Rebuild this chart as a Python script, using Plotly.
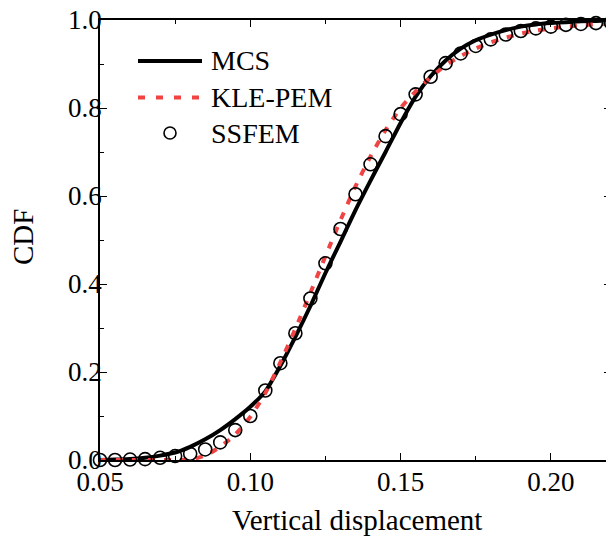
import plotly.graph_objects as go

x_vals = [0.050, 0.055, 0.060, 0.065, 0.070, 0.075, 0.080, 0.085, 0.090, 0.095,
          0.100, 0.105, 0.110, 0.115, 0.120, 0.125, 0.130, 0.135, 0.140, 0.145,
          0.150, 0.155, 0.160, 0.165, 0.170, 0.175, 0.180, 0.185, 0.190, 0.195,
          0.200, 0.205, 0.210, 0.215, 0.220]

mcs = [0.000, 0.001, 0.002, 0.005, 0.010, 0.017, 0.030, 0.047, 0.068, 0.093,
       0.121, 0.156, 0.214, 0.280, 0.350, 0.425, 0.496, 0.568, 0.635, 0.700,
       0.766, 0.826, 0.872, 0.908, 0.935, 0.954, 0.967, 0.977, 0.985, 0.990,
       0.993, 0.995, 0.997, 0.998, 0.999]

kle_pem = [0.000, 0.000, 0.000, 0.000, 0.000, 0.000, 0.001, 0.010, 0.030, 0.058,
           0.098, 0.152, 0.222, 0.298, 0.380, 0.463, 0.545, 0.622, 0.690, 0.750,
           0.800, 0.838, 0.870, 0.897, 0.918, 0.935, 0.949, 0.960, 0.969, 0.976,
           0.981, 0.985, 0.988, 0.990, 0.992]

ssfem = [0.000, 0.000, 0.001, 0.002, 0.005, 0.009, 0.014, 0.024, 0.040, 0.068,
         0.100, 0.158, 0.220, 0.288, 0.367, 0.447, 0.525, 0.604, 0.672, 0.736,
         0.786, 0.831, 0.871, 0.902, 0.924, 0.941, 0.956, 0.967, 0.975, 0.981,
         0.985, 0.989, 0.991, 0.993, 0.994]

series_names = ["MCS", "KLE-PEM", "SSFEM"]
x_title = "Vertical displacement"
y_title = "CDF"
x_ticks = [0.05, 0.10, 0.15, 0.20]
y_ticks = [0.0, 0.2, 0.4, 0.6, 0.8, 1.0]

FONT = "Liberation Serif, Times New Roman, serif"
RED = "#F04343"

fig = go.Figure()
fig.add_trace(go.Scatter(x=x_vals, y=mcs, mode="lines", name=series_names[0],
                         line=dict(color="black", width=4, shape="spline", smoothing=0.6),
                         cliponaxis=False, showlegend=False))
fig.add_trace(go.Scatter(x=x_vals, y=kle_pem, mode="lines", name=series_names[1],
                         line=dict(color=RED, width=4, dash="7px,9px", shape="spline", smoothing=0.6),
                         cliponaxis=False, showlegend=False))
fig.add_trace(go.Scatter(x=x_vals, y=ssfem, mode="markers", name=series_names[2],
                         marker=dict(symbol="circle-open", size=13, color="black",
                                     line=dict(width=1.6, color="black")),
                         cliponaxis=False, showlegend=False))

# page has an 8px body margin; compensate so the plot area lands at x 100..611, y 20..460
OFF = 8
PW, PH = 614, 537
W, H = PW - OFF, PH - OFF
L, R, T, B = 100 - OFF, 3, 20 - OFF, 77
pw, ph = W - L - R, H - T - B

def px(xp):
    return (xp - OFF - L) / pw

def py(yp):
    return (H - B - (yp - OFF)) / ph

shapes = [
    dict(type="line", xref="paper", yref="paper", x0=px(138), x1=px(202), y0=py(61), y1=py(61),
         line=dict(color="black", width=4)),
    dict(type="line", xref="paper", yref="paper", x0=px(138), x1=px(202), y0=py(97.5), y1=py(97.5),
         line=dict(color=RED, width=4, dash="7px,11px")),
    dict(type="circle", xref="paper", yref="paper", x0=px(164), x1=px(176), y0=py(139), y1=py(127),
         line=dict(color="black", width=1.6)),
]
annotations = []
for name, yy in zip(series_names, [61, 97.5, 133]):
    annotations.append(dict(text=name, xref="paper", yref="paper", x=px(209), y=py(yy),
                            xanchor="left", yanchor="middle", showarrow=False,
                            font=dict(family=FONT, size=28, color="black")))
annotations.append(dict(text=x_title, xref="paper", yref="paper", x=px(357), y=py(520),
                        xanchor="center", yanchor="middle", showarrow=False,
                        font=dict(family=FONT, size=29, color="black")))
annotations.append(dict(text=y_title, xref="paper", yref="paper", x=px(23), y=py(237),
                        xanchor="center", yanchor="middle", showarrow=False, textangle=-90,
                        font=dict(family=FONT, size=29, color="black")))

fig.update_layout(
    width=W, height=H,
    margin=dict(l=L, r=R, t=T, b=B, pad=0, autoexpand=False),
    plot_bgcolor="white", paper_bgcolor="white",
    font=dict(family=FONT, size=27, color="black"),
    shapes=shapes, annotations=annotations,
    showlegend=False,
)
fig.update_xaxes(
    range=[0.05, 0.22], tickvals=x_ticks, ticktext=[f"{v:.2f}" for v in x_ticks],
    ticks="inside", ticklen=7, tickwidth=1.3, tickcolor="black",
    minor=dict(ticks="inside", ticklen=4, tickwidth=1.3, tickcolor="black", dtick=0.025, tick0=0.05),
    showline=True, linecolor="black", linewidth=1.5, mirror="allticks",
    showgrid=False, zeroline=False, automargin=False, ticklabelstandoff=-3,
    ticklabeloverflow="allow",
    tickfont=dict(family=FONT, size=27),
)
fig.update_yaxes(
    range=[0, 1.0], tickvals=y_ticks, ticktext=[f"{v:.1f}" for v in y_ticks],
    ticks="inside", ticklen=7, tickwidth=1.3, tickcolor="black",
    minor=dict(ticks="inside", ticklen=4, tickwidth=1.3, tickcolor="black", dtick=0.1, tick0=0),
    showline=True, linecolor="black", linewidth=1.5, mirror="allticks",
    showgrid=False, zeroline=False, automargin=False, ticklabelstandoff=-9,
    ticklabeloverflow="allow",
    tickfont=dict(family=FONT, size=27),
)

fig.write_html("out.html")
